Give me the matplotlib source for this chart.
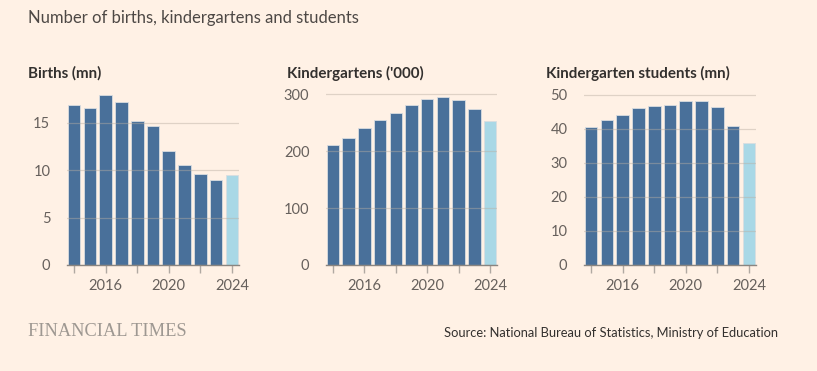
import matplotlib
matplotlib.use("Agg")
import matplotlib.pyplot as plt
import numpy as np

years = list(range(2014, 2025))
births = [16.9, 16.6, 17.9, 17.2, 15.2, 14.65, 12.0, 10.6, 9.56, 9.02, 9.54]
kindergartens = [209.9, 223.7, 239.8, 255.0, 266.7, 281.2, 291.7, 294.8, 289.2, 274.4, 253.3]
students = [40.5, 42.6, 44.1, 46.0, 46.6, 47.1, 48.2, 48.05, 46.3, 40.9, 35.8]

titles = ["Births (mn)", "Kindergartens ('000)", "Kindergarten students (mn)"]
yticks_list = [[0, 5, 10, 15], [0, 100, 200, 300], [0, 10, 20, 30, 40, 50]]
ylims = [18.16, 302, 50.5]
series = [births, kindergartens, students]
xtick_pos = [2014, 2016, 2018, 2020, 2022, 2024]
xtick_labels = ["", "2016", "", "2020", "", "2024"]

BG = "#FFF1E5"
DARK = "#49709a"
LIGHT = "#a9d8e6"
TEXT = "#33302e"
TICK = "#66605c"
GRID = "#b8aea2"

W, H = 817, 371
fig = plt.figure(figsize=(W / 100, H / 100), dpi=100, facecolor=BG)
plt.rcParams["font.family"] = ["Lato", "DejaVu Sans"]

boxes = [(67, 239), (326, 497), (584, 756)]
top_px, bot_px = 93, 265
title_x = [28, 287, 546]

for i, (l, r) in enumerate(boxes):
    ax = fig.add_axes([l / W, 1 - bot_px / H, (r - l) / W, (bot_px - top_px) / H])
    ax.set_facecolor(BG)
    colors = [DARK] * (len(years) - 1) + [LIGHT]
    ax.bar(years, series[i], width=0.8, color=colors, edgecolor="#d9dde0",
           linewidth=0.6, zorder=2)
    ax.set_xlim(2013.55, 2024.45)
    ax.set_ylim(0, ylims[i])
    ax.set_yticks(yticks_list[i])
    ax.set_yticklabels([str(t) for t in yticks_list[i]])
    ax.grid(axis="y", color=GRID, linewidth=0.9, alpha=0.45, zorder=3)
    ax.set_axisbelow(False)
    ax.set_xticks(xtick_pos)
    ax.set_xticklabels(xtick_labels)
    for s in ["top", "right", "left"]:
        ax.spines[s].set_visible(False)
    ax.spines["bottom"].set_color("#8a8580")
    ax.spines["bottom"].set_linewidth(1.0)
    ax.spines["bottom"].set_zorder(4)
    ax.tick_params(axis="y", length=0, pad=12, labelsize=10.5, labelcolor=TICK)
    ax.tick_params(axis="x", length=6, width=1, color="#b0a9a2", pad=4,
                   labelsize=10.5, labelcolor=TICK)
    fig.text(title_x[i] / W, 1 - 73 / H, titles[i], fontsize=10.9, fontweight="bold",
             color=TEXT, va="center", ha="left")

fig.text(28 / W, 1 - 18 / H, "Number of births, kindergartens and students",
         fontsize=12, color="#4d4845", va="center", ha="left")
fig.text(28 / W, 1 - 331 / H, "FINANCIAL TIMES", fontsize=13.2,
         family=["Liberation Serif", "DejaVu Serif"], color="#9e9892",
         va="center", ha="left")
fig.text(778 / W, 1 - 333 / H, "Source: National Bureau of Statistics, Ministry of Education",
         fontsize=9.3, color=TEXT, va="center", ha="right")

fig.savefig("out.png", dpi=100, facecolor=BG)
